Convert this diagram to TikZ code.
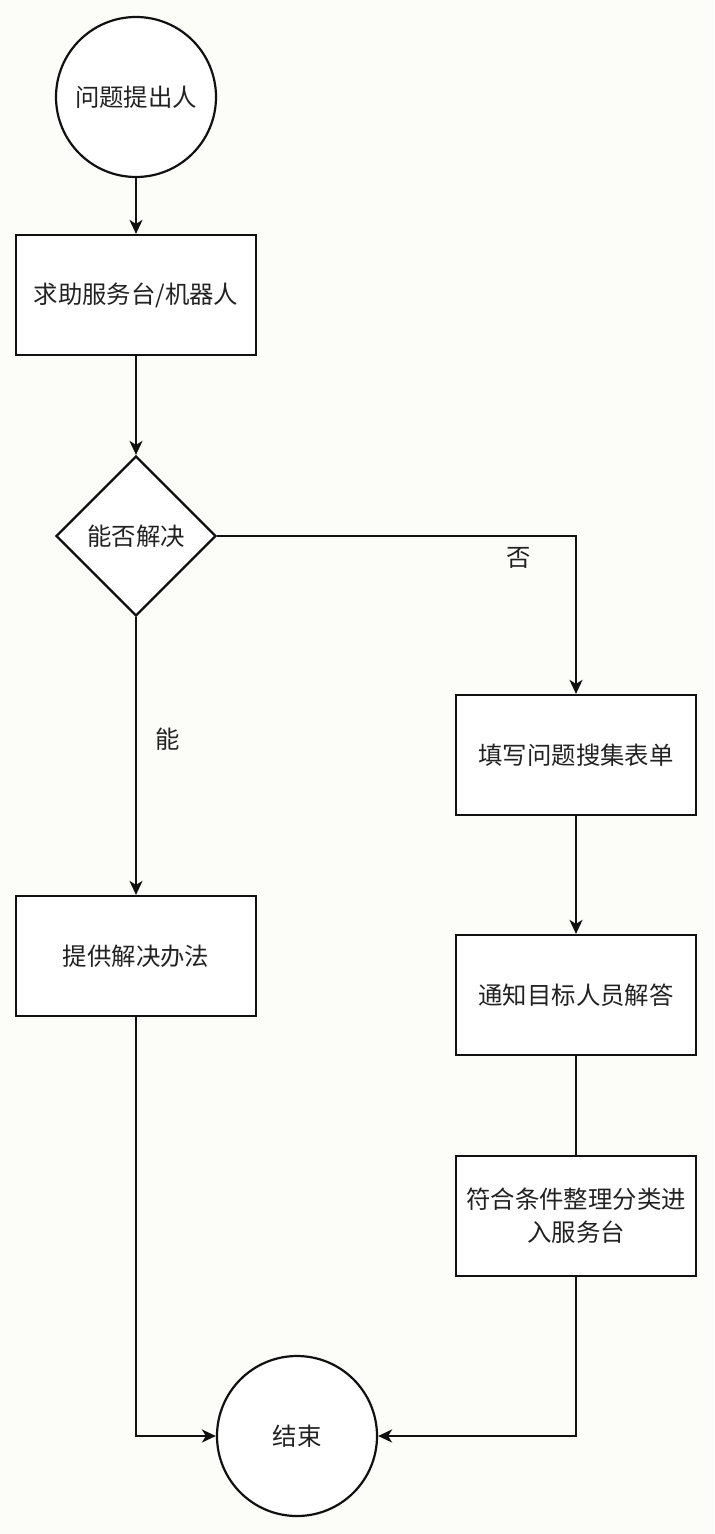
\documentclass[tikz,border=0pt]{standalone}
\usepackage{fontspec}
\setmainfont{Noto Sans CJK SC}
\usepackage{xcolor}
\usepackage{tikz}
\usetikzlibrary{arrows.meta,shapes.geometric}
\definecolor{FlowPaper}{HTML}{FCFCF8}
\definecolor{FlowInk}{HTML}{111111}
\definecolor{FlowText}{HTML}{222222}
\tikzset{
  >={Stealth[length=7pt,width=6.5pt,inset=2pt]},
  stepbox/.style={draw=FlowInk,line width=1.1pt,fill=white,minimum width=120pt,
    minimum height=60pt,align=center,inner sep=3pt,text=FlowText,
    font=\fontsize{12.2}{16.5}\selectfont},
  terminal/.style={stepbox,circle,minimum width=80pt,minimum height=80pt},
  decision/.style={stepbox,diamond,aspect=1,minimum width=80pt,minimum height=80pt,inner sep=0pt},
  flow/.style={->,line width=1.1pt,draw=FlowInk},
  link/.style={line width=1.1pt,draw=FlowInk},
  edgelabel/.style={font=\fontsize{12.2}{14}\selectfont,text=FlowText}
}
\begin{document}
\begin{tikzpicture}[x=0.5pt,y=-0.5pt]
  \fill[FlowPaper] (0,0) rectangle (714,1534);
  \useasboundingbox (0,0) rectangle (714,1534);

  \node[terminal] (asker) at (136,97) {问题提出人};
  \node[stepbox] (helpdesk) at (136,295) {求助服务台/机器人};
  \node[decision] (solvable) at (136,536) {能否解决};
  \node[stepbox] (solution) at (136,956) {提供解决办法};
  \node[stepbox] (form) at (576,755) {填写问题搜集表单};
  \node[stepbox] (notify) at (576,995) {通知目标人员解答};
  \node[stepbox] (classify) at (576,1216) {符合条件整理分类进\\入服务台};
  \node[terminal] (finish) at (297,1436) {结束};

  \draw[flow] (asker) -- (helpdesk);
  \draw[flow] (helpdesk) -- (solvable);
  \draw[flow] (solvable.east) -| node[edgelabel,pos=0.42,below=2pt] {否} (form.north);
  \draw[flow] (solvable.south) -- node[edgelabel,pos=0.44,right=6pt] {能} (solution.north);
  \draw[flow] (form) -- (notify);
  \draw[link] (notify) -- (classify);
  \draw[flow] (solution.south) |- (finish.west);
  \draw[flow] (classify.south) |- (finish.east);
\end{tikzpicture}
\end{document}
